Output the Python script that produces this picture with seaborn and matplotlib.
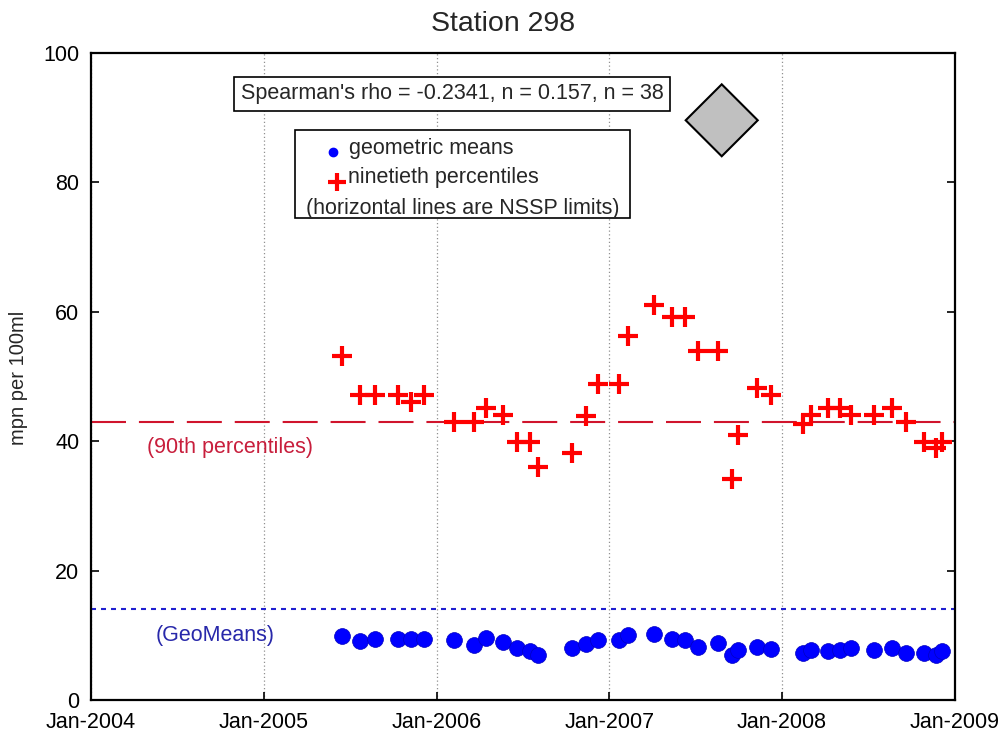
import numpy as np
import pandas as pd
import matplotlib
matplotlib.use("Agg")
import matplotlib.pyplot as plt
import matplotlib.dates as mdates
from matplotlib.patches import Rectangle, Polygon
import seaborn as sns

# ---------------- data ----------------
sample_dates = [
    "2005-06-15", "2005-07-23", "2005-08-23", "2005-10-12", "2005-11-07", "2005-12-05",
    "2006-02-06", "2006-03-20", "2006-04-16", "2006-05-22", "2006-06-19", "2006-07-17",
    "2006-08-04", "2006-10-15", "2006-11-13", "2006-12-08",
    "2007-01-22", "2007-02-10", "2007-04-06", "2007-05-14", "2007-06-10", "2007-07-08",
    "2007-08-19", "2007-09-17", "2007-10-01", "2007-11-10", "2007-12-08",
    "2008-02-14", "2008-03-02", "2008-04-08", "2008-05-03", "2008-05-27", "2008-07-14",
    "2008-08-21", "2008-09-19", "2008-10-28", "2008-11-22", "2008-12-05",
]
ninetieth = [
    53.1, 47.1, 47.1, 47.1, 46.1, 47.1,
    43.0, 43.0, 45.1, 44.0, 39.9, 39.9,
    36.0, 38.1, 43.9, 48.9,
    48.9, 56.2, 61.1, 59.2, 59.2, 53.9,
    53.9, 34.1, 41.0, 48.2, 47.1,
    42.7, 44.0, 45.1, 45.1, 44.0, 44.0,
    45.1, 43.0, 39.9, 38.9, 39.9,
]
geomeans = [
    9.9, 9.1, 9.5, 9.5, 9.5, 9.5,
    9.2, 8.5, 9.6, 8.9, 8.0, 7.6,
    7.0, 8.0, 8.6, 9.3,
    9.2, 10.0, 10.2, 9.4, 9.2, 8.2,
    8.8, 7.0, 7.7, 8.2, 7.9,
    7.2, 7.7, 7.6, 7.8, 8.0, 7.7,
    8.0, 7.3, 7.3, 7.0, 7.5,
]
nssp_90th_limit = 43
nssp_geomean_limit = 14
title = "Station 298"
ylabel = "mpn per 100ml"
stats_text = "Spearman's rho = -0.2341, n = 0.157, n = 38"
legend_labels = ["geometric means", "ninetieth percentiles", "(horizontal lines are NSSP limits)"]
y_ticks = [0, 20, 40, 60, 80, 100]

df = pd.DataFrame({
    "date": pd.to_datetime(sample_dates),
    "p90": ninetieth,
    "gm": geomeans,
})

# ---------------- figure ----------------
sns.set_theme(style="white")
plt.rcParams["font.family"] = ["Liberation Sans", "DejaVu Sans"]

fig = plt.figure(figsize=(10.01, 7.40), dpi=100)
ax = fig.add_axes([91 / 1001, 1 - 700 / 740, (955 - 91) / 1001, (700 - 53) / 740])

# NSSP limit lines
ax.axhline(nssp_90th_limit, color="#d0142c", lw=1.5, dashes=(16.8, 6.2), zorder=2)
ax.axhline(nssp_geomean_limit, color="#2020d0", lw=1.5, dashes=(2.4, 2.4), zorder=2)

sns.scatterplot(data=df, x="date", y="gm", ax=ax, color="#0000ff", s=130,
                edgecolor="#0000c0", linewidth=0.5, zorder=4, legend=False)
sns.scatterplot(data=df, x="date", y="p90", ax=ax, color="#ff0000", marker="+",
                s=190, linewidth=3, zorder=5, legend=False)

ax.set_xlim(pd.Timestamp("2004-01-01"), pd.Timestamp("2009-01-01"))
ax.set_ylim(0, 100)
ax.set_yticks(y_ticks)
ax.xaxis.set_major_locator(mdates.YearLocator())
ax.xaxis.set_major_formatter(mdates.DateFormatter("%b-%Y"))
ax.grid(axis="x", color="#909090", linestyle=(0, (1, 2)), lw=0.9)
ax.grid(axis="y", visible=False)
ax.tick_params(axis="both", direction="in", length=6, width=1.2, labelsize=15.5,
               colors="black", right=True, bottom=True, left=True)
ax.tick_params(axis="y", pad=8.5)
ax.tick_params(axis="x", pad=8.5)
for sp in ax.spines.values():
    sp.set_color("black")
    sp.set_linewidth(1.6)
ax.set_xlabel("")
ax.set_ylabel(ylabel, fontsize=14.5)
ax.yaxis.set_label_coords(-0.073, 0.498)
ax.set_title(title, fontsize=20.5, pad=16, x=0.477)

# limit labels
ax.text(0.161, 0.391, "(90th percentiles)", transform=ax.transAxes, color="#c81e3c",
        fontsize=15.5, ha="center", va="center")
ax.text(0.1435, 0.099, "(GeoMeans)", transform=ax.transAxes, color="#2828aa",
        fontsize=15.5, ha="center", va="center")

# statistics box
ax.text(0.4178, 0.937, stats_text, transform=ax.transAxes, fontsize=15.5,
        ha="center", va="center",
        bbox=dict(boxstyle="square,pad=0.3", fc="white", ec="black", lw=1.2))

# manual legend box
ax.add_patch(Rectangle((0.236, 0.745), 0.624 - 0.236, 0.881 - 0.745,
                       transform=ax.transAxes, fc="white", ec="black", lw=1.2, zorder=6))
ax.plot([0.280], [0.847], transform=ax.transAxes, marker="o", ms=6, color="#0000ff",
        ls="none", zorder=7, clip_on=False)
ax.plot([0.285], [0.800], transform=ax.transAxes, marker="+", ms=13, mew=3,
        color="#ff0000", ls="none", zorder=7, clip_on=False)
ax.text(0.2986, 0.853, legend_labels[0], transform=ax.transAxes, fontsize=15.5,
        va="center", ha="left", zorder=7)
ax.text(0.297, 0.807, legend_labels[1], transform=ax.transAxes, fontsize=15.5,
        va="center", ha="left", zorder=7)
ax.text(0.4306, 0.760, legend_labels[2], transform=ax.transAxes, fontsize=15.5,
        va="center", ha="center", zorder=7)

# grey diamond
cx, cy, hw, hh = 0.730, 0.896, 0.0417, 0.0556
ax.add_patch(Polygon([(cx - hw, cy), (cx, cy + hh), (cx + hw, cy), (cx, cy - hh)],
                     closed=True, transform=ax.transAxes, fc="#c0c0c0", ec="black",
                     lw=1.5, zorder=6))

fig.savefig("out.png", dpi=100)
